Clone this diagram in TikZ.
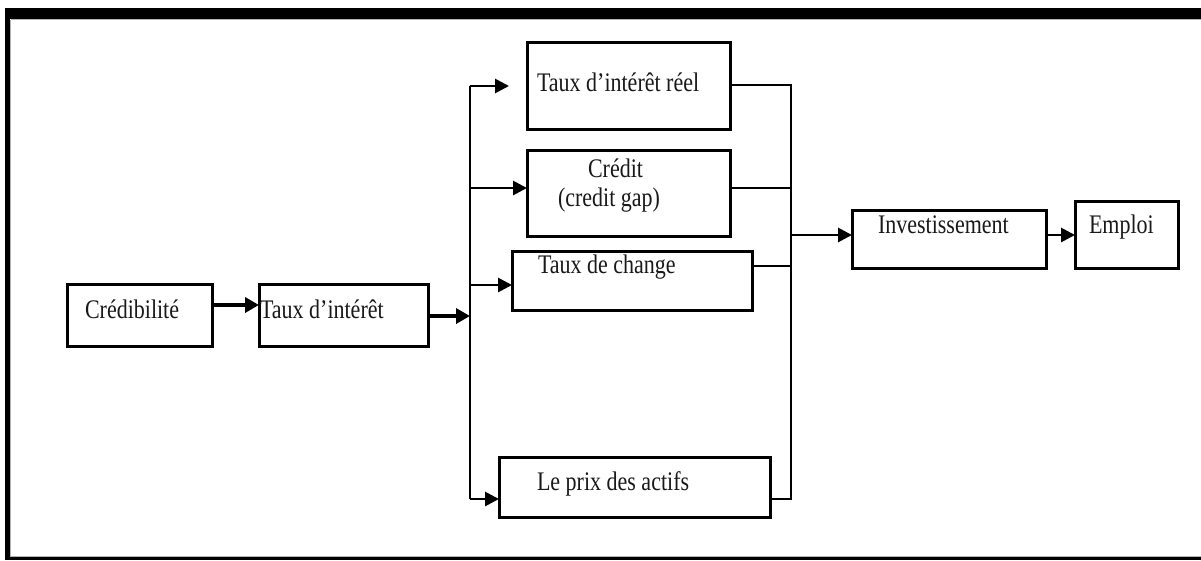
\documentclass[tikz,border=0pt]{standalone}
\usepackage{fontspec}
\setmainfont{Liberation Serif}
\usetikzlibrary{arrows.meta}
\newcommand\vstr[1]{\scalebox{1}[1.22]{#1}}
\begin{document}
\begin{tikzpicture}[x=1pt,y=-1pt,
  box/.style={draw, line width=3pt, rectangle, inner sep=0pt, outer sep=0pt},
  lbl/.style={anchor=base west, inner sep=0pt, outer sep=0pt, text=black!90, font=\fontsize{22}{26}\selectfont},
  conn/.style={line width=2.8pt},
  arr/.style={line width=2.8pt, -{Triangle[length=14pt,width=14pt]}},
  thickarr/.style={line width=3.8pt, -{Triangle[length=14pt,width=15pt]}},
]
\useasboundingbox (0,0) rectangle (1201,560);
\fill[white] (0,0) rectangle (1201,560);
% frame
\fill[black] (5,8) rectangle (1201,19);
\fill[black] (5,8) rectangle (10,560);
\fill[black] (5,557) rectangle (1201,560);
\draw[gray!60, line width=1pt] (10.5,19.5) -- (1201,19.5);
\draw[gray!60, line width=1pt] (10.5,19.5) -- (10.5,556.5) -- (1201,556.5);

% boxes
\node[box, minimum width=145pt, minimum height=62pt] (cred) at (139.5,315.5) {};
\node[box, minimum width=169pt, minimum height=62pt] (ti) at (343.5,315.5) {};
\node[box, minimum width=203pt, minimum height=87pt] (tr) at (628.5,85.5) {};
\node[box, minimum width=203pt, minimum height=86pt] (cr) at (628.5,193) {};
\node[box, minimum width=240pt, minimum height=59pt] (tc) at (632,280.5) {};
\node[box, minimum width=271pt, minimum height=60pt] (pa) at (634.5,487) {};
\node[box, minimum width=194pt, minimum height=58pt] (inv) at (949,239) {};
\node[box, minimum width=103pt, minimum height=67pt] (emp) at (1126.5,234.5) {};

% labels
\node[lbl] (tcred) at (85,318) {\vstr{Crédibilité}};
\node[lbl] (tti) at (260,318) {\vstr{Taux d’intérêt}};
\node[lbl] (ttr) at (537,91) {\vstr{Taux d’intérêt réel}};
\node[lbl] (tcr1) at (588,177) {\vstr{Crédit}};
\node[lbl] (tcr2) at (558,206) {\vstr{(credit gap)}};
\node[lbl] (ttc) at (538,273) {\vstr{Taux de change}};
\node[lbl] (tpa) at (537,490) {\vstr{Le prix des actifs}};
\node[lbl] (tinv) at (878,233) {\vstr{Investissement}};
\node[lbl] (temp) at (1089,233) {\vstr{Emploi}};

% junction coordinates
\coordinate (jt) at (470,86);
\coordinate (jb) at (470,499);
\coordinate (rt) at (791,85);
\coordinate (rb) at (791,499);
\coordinate (rin) at (791,235);

% connectors
\draw[thickarr] (cred.east |- 0,305) -- (ti.west |- 0,305);
\draw[thickarr] (ti.east |- 0,316) -- (jt |- 0,316);
\draw[conn] (jt) -- (jb);
\draw[arr] (jt) -- (509,86);
\draw[arr] (jt |- 0,188) -- (cr.west |- 0,188);
\draw[arr] (jt |- 0,285) -- (tc.west |- 0,285);
\draw[arr] (jb) -- (pa.west |- jb);

\draw[conn] (tr.east |- rt) -- (rt) -- (rb) -- (pa.east |- rb);
\draw[conn] (cr.east |- 0,188) -- (rt |- 0,188);
\draw[conn] (tc.east |- 0,266) -- (rt |- 0,266);
\draw[arr] (rin) -- (inv.west |- rin);
\draw[arr] (inv.east |- 0,235) -- (emp.west |- 0,235);
\end{tikzpicture}
\end{document}
